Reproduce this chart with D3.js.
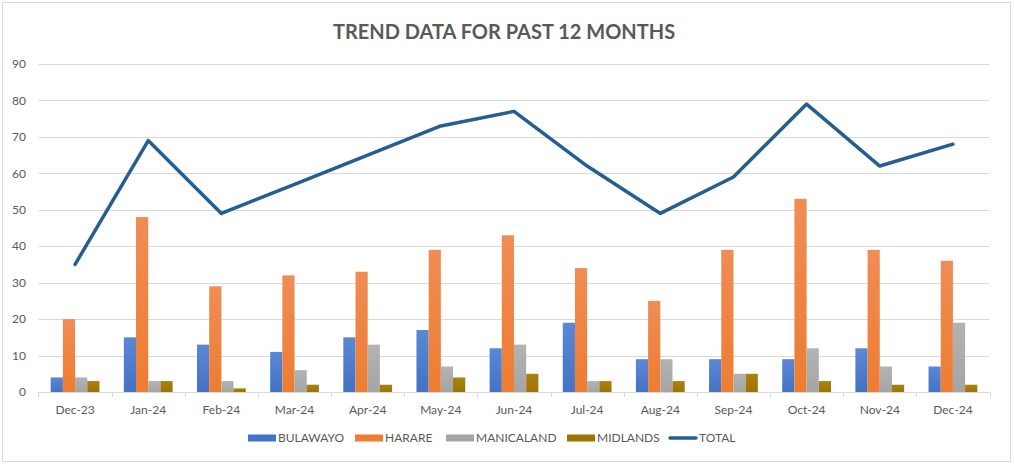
<!DOCTYPE html>
<html><head><meta charset="utf-8">
<script src="https://cdn.jsdelivr.net/npm/d3@7"></script>
<style>body{margin:0;background:#fff;}svg{display:block;font-family:Lato,"Open Sans",sans-serif;}</style>
</head><body>
<svg id="c" width="1015" height="465"></svg>
<script>
const categories = ["Dec-23","Jan-24","Feb-24","Mar-24","Apr-24","May-24","Jun-24","Jul-24","Aug-24","Sep-24","Oct-24","Nov-24","Dec-24"];
const bulawayo   = [4,15,13,11,15,17,12,19,9,9,9,12,7];
const harare     = [20,48,29,32,33,39,43,34,25,39,53,39,36];
const manicaland = [4,3,3,6,13,7,13,3,9,5,12,7,19];
const midlands   = [3,3,1,2,2,4,5,3,3,5,3,2,2];
const total      = [35,69,49,57,65,73,77,62,49,59,79,62,68];
const yTicks = [0,10,20,30,40,50,60,70,80,90];
const barSeries = [
  {name:"BULAWAYO", values:bulawayo, color:"#4472C4", light:"#5b87d6"},
  {name:"HARARE", values:harare, color:"#ED7D31", light:"#f08c55"},
  {name:"MANICALAND", values:manicaland, color:"#A5A5A5", light:"#b3b3b3"},
  {name:"MIDLANDS", values:midlands, color:"#9C7400", light:"#a88312"}
];
const lineColor = "#255E91";

const svg = d3.select("#c");
svg.append("rect").attr("x",2.5).attr("y",2.5).attr("width",1008).attr("height",459)
  .attr("fill","#fff").attr("stroke","#d9d9d9");

const defs = svg.append("defs");
barSeries.forEach((s,i)=>{
  const g = defs.append("linearGradient").attr("id","g"+i).attr("x1",0).attr("y1",0).attr("x2",0).attr("y2",1);
  g.append("stop").attr("offset","0%").attr("stop-color",s.light);
  g.append("stop").attr("offset","100%").attr("stop-color",s.color);
});

const pLeft = 38.5, pRight = 989.5, pTop = 64, pBottom = 392;
const x = d3.scaleBand().domain(categories).range([pLeft,pRight]).paddingInner(0).paddingOuter(0);
const y = d3.scaleLinear().domain([0,90]).range([pBottom,pTop]);
const x1 = d3.scaleBand().domain(barSeries.map(s=>s.name)).range([0,x.bandwidth()]).paddingOuter(1.0).paddingInner(0);

// gridlines
svg.append("g").selectAll("line").data(yTicks.filter(d=>d>0)).join("line")
  .attr("x1",pLeft).attr("x2",pRight).attr("y1",d=>Math.round(y(d))+0.5).attr("y2",d=>Math.round(y(d))+0.5)
  .attr("stroke","#d9d9d9").attr("stroke-width",1);

// y labels
svg.append("g").selectAll("text").data(yTicks).join("text")
  .attr("x",26).attr("y",d=>y(d)).attr("dy","0.35em").attr("text-anchor","end")
  .attr("font-size",12).attr("fill","#595959").text(d=>d);

// bars
barSeries.forEach((s,i)=>{
  svg.append("g").selectAll("rect").data(s.values).join("rect")
    .attr("x",(d,j)=>x(categories[j])+x1(s.name))
    .attr("width",x1.bandwidth())
    .attr("y",d=>y(d)).attr("height",d=>pBottom-y(d))
    .attr("fill","url(#g"+i+")");
});

// x axis
const xAxis = svg.append("g");
xAxis.append("line").attr("x1",pLeft).attr("x2",pRight).attr("y1",pBottom+0.5).attr("y2",pBottom+0.5).attr("stroke","#d9d9d9");
const tickPos = categories.map(c=>x(c)).concat([pRight]);
xAxis.selectAll("line.t").data(tickPos).join("line").attr("class","t")
  .attr("x1",d=>Math.round(d)+0.5).attr("x2",d=>Math.round(d)+0.5).attr("y1",pBottom).attr("y2",pBottom+5).attr("stroke","#d9d9d9");
xAxis.selectAll("text").data(categories).join("text")
  .attr("x",d=>x(d)+x.bandwidth()/2).attr("y",414).attr("text-anchor","middle")
  .attr("font-size",12).attr("fill","#595959").text(d=>d);

// total line
const line = d3.line().x((d,j)=>x(categories[j])+x.bandwidth()/2).y(d=>y(d));
svg.append("path").datum(total).attr("d",line).attr("fill","none")
  .attr("stroke",lineColor).attr("stroke-width",3.5).attr("stroke-linejoin","round").attr("stroke-linecap","round");

// title
svg.append("text").attr("x",504).attr("y",39).attr("text-anchor","middle")
  .attr("font-size",20).attr("font-weight","bold").attr("fill","#595959").text("TREND DATA FOR PAST 12 MONTHS");

// legend
const legendItems = barSeries.map(s=>({name:s.name,color:s.color,type:"bar"})).concat([{name:"TOTAL",color:lineColor,type:"line"}]);
const legendX = [248,355,446,567,669];
const lg = svg.append("g");
legendItems.forEach((it,i)=>{
  const g = lg.append("g").attr("transform",`translate(${legendX[i]},438)`);
  if(it.type==="bar") g.append("rect").attr("x",0).attr("y",-3.5).attr("width",28).attr("height",7).attr("fill",it.color);
  else g.append("line").attr("x1",1).attr("x2",27).attr("y1",0).attr("y2",0).attr("stroke",it.color).attr("stroke-width",3.5).attr("stroke-linecap","round");
  g.append("text").attr("x",30).attr("y",0).attr("dy","0.35em").attr("font-size",12).attr("fill","#595959").text(it.name);
});
</script>
</body></html>
